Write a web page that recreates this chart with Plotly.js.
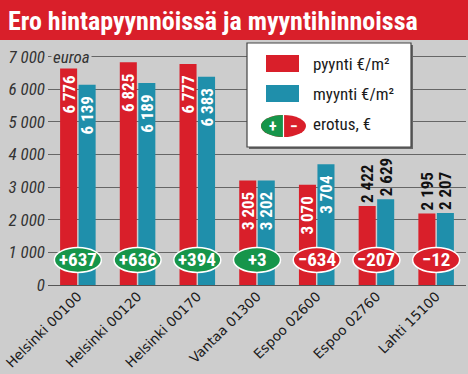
<!DOCTYPE html>
<html>
<head>
<meta charset="utf-8">
<script src="https://cdn.plot.ly/plotly-3.0.1.min.js"></script>
<style>html,body{margin:0;padding:0;background:#cdcdcd;}#chart{width:468px;height:374px;}</style>
</head>
<body>
<div id="chart"></div>
<script>
const categories = ['Helsinki 00100','Helsinki 00120','Helsinki 00170','Vantaa 01300','Espoo 02600','Espoo 02760','Lahti 15100'];
const pyynti = [6776, 6825, 6777, 3205, 3070, 2422, 2195];
const myynti = [6139, 6189, 6383, 3202, 3704, 2629, 2207];
const erotus = [637, 636, 394, 3, -634, -207, -12];
const seriesNames = ['pyynti €/m²', 'myynti €/m²', 'erotus, €'];
const yTickVals = [0,1000,2000,3000,4000,5000,6000,7000];
const yTickText = ['0','1 000','2 000','3 000','4 000','5 000','6 000','7 000'];
const yUnit = 'euroa';
const titleText = 'Ero hintapyynnöissä ja myyntihinnoissa';

const RED = '#d91f2a', BLUE = '#1f8fab', GREEN = '#16954a', BG = '#cdcdcd';
const W = 468, H = 374, L = 48, R = 466, T = 55, B = 285;
const px = x => (x - L) / (R - L);
const py = y => (B - y) / (B - T);
const COND = '"Roboto Condensed", "Open Sans Condensed", "DejaVu Sans Condensed", sans-serif';

function pos(v){ return v < 3000 ? 'outside' : 'inside'; }
function barTrace(vals, name, color){
  const tp = vals.map(pos);
  return {
    type: 'bar', x: categories, y: vals, name: name,
    marker: {color: color},
    texttemplate: tp.map(p => p === 'inside' ? '%{y:,}\u2007' : '%{y:,}'), textangle: -90,
    textposition: tp, insidetextanchor: 'end',
    textfont: {size: 17, weight: 'bold', family: COND},
    insidetextfont: {color: '#ffffff', size: 17, weight: 'bold', family: COND},
    outsidetextfont: {color: '#111111', size: 17, weight: 'bold', family: COND},
    cliponaxis: false, hoverinfo: 'skip', showlegend: false
  };
}

const shapes = [];
const annotations = [];
// title band
shapes.push({type:'rect', xref:'paper', yref:'paper', x0: px(0), x1: px(W), y0: py(40), y1: py(0), fillcolor: RED, line:{width:0}, layer:'below'});

// difference badges
const BADGE_Y = 768;
erotus.forEach((d, i) => {
  shapes.push({type:'circle', xref:'x', yref:'y', xsizemode:'pixel', ysizemode:'pixel',
    xanchor: i, yanchor: BADGE_Y, x0: -23.5, x1: 23.5, y0: -12.5, y1: 12.5,
    fillcolor: d >= 0 ? GREEN : RED, line:{color:'#ffffff', width:1.5}});
  annotations.push({x: i, y: BADGE_Y, xref:'x', yref:'y', showarrow:false, yanchor:'middle',
    text: (d >= 0 ? '+' : '−') + Math.abs(d),
    font:{color:'#ffffff', size:19, weight:'bold', family: COND}});
});

// legend box
shapes.push({type:'rect', xref:'paper', yref:'paper', x0: px(249), x1: px(413), y0: py(149), y1: py(45), fillcolor:'#666666', line:{width:0}});
shapes.push({type:'rect', xref:'paper', yref:'paper', x0: px(247), x1: px(411), y0: py(147), y1: py(43), fillcolor:'#ffffff', line:{color:'#444444', width:1.2}});
shapes.push({type:'rect', xref:'paper', yref:'paper', x0: px(266), x1: px(299), y0: py(72), y1: py(55), fillcolor: RED, line:{width:0}});
shapes.push({type:'rect', xref:'paper', yref:'paper', x0: px(266), x1: px(299), y0: py(102), y1: py(85), fillcolor: BLUE, line:{width:0}});
// legend badge (half green / half red)
shapes.push({type:'circle', xref:'paper', yref:'paper', x0: px(261), x1: px(306), y0: py(137), y1: py(115), fillcolor: RED, line:{width:0}});
const k = 0.5523, cx = px(283.5), cy = py(126), rxp = px(283.5) - px(261), ryp = py(115) - py(126);
shapes.push({type:'path', xref:'paper', yref:'paper',
  path: `M${cx},${cy+ryp} C${cx-k*rxp},${cy+ryp} ${cx-rxp},${cy+k*ryp} ${cx-rxp},${cy} C${cx-rxp},${cy-k*ryp} ${cx-k*rxp},${cy-ryp} ${cx},${cy-ryp} Z`,
  fillcolor: GREEN, line:{width:0}});
shapes.push({type:'line', xref:'paper', yref:'paper', x0: cx, x1: cx, y0: py(137), y1: py(115), line:{color:'#ffffff', width:1.2}});
annotations.push({xref:'paper', yref:'paper', x: px(273), y: py(126), yanchor:'middle', text:'+', showarrow:false, font:{color:'#ffffff', size:16, weight:'bold', family: COND}});
annotations.push({xref:'paper', yref:'paper', x: px(294), y: py(126), yanchor:'middle', text:'−', showarrow:false, font:{color:'#ffffff', size:16, weight:'bold', family: COND}});
[[seriesNames[0], 63.5], [seriesNames[1], 93.5], [seriesNames[2], 124]].forEach(([t, y]) => {
  annotations.push({xref:'paper', yref:'paper', x: px(311), y: py(y), xanchor:'left', yanchor:'middle', text: t, showarrow:false,
    font:{color:'#1a1a1a', size:17, family: COND}});
});
// unit label
annotations.push({xref:'paper', yref:'y', x: px(51), y: 7000, xanchor:'left', yanchor:'middle', text: yUnit, showarrow:false,
  bgcolor: BG, borderpad: 1, font:{color:'#333333', size:17, style:'italic', family: COND}});

const layout = {
  width: W, height: H,
  margin: {l: L, r: W - R, t: T, b: H - B},
  paper_bgcolor: BG, plot_bgcolor: BG,
  separators: ', ',
  uniformtext: {mode: 'show', minsize: 17},
  barmode: 'group', bargap: 0.38, bargroupgap: 0.08,
  title: {text: titleText, xref:'container', yref:'container', x: 8/W, xanchor:'left', y: 1 - 21/H, yanchor:'middle',
    font: {color:'#ffffff', size: 26, weight:'bold', family: COND}},
  xaxis: {type:'category', tickangle: -45, showgrid:false, showline:false, ticks:'', ticklen:0,
    tickfont:{color:'#1a1a1a', size:13.5, family:'"DejaVu Sans", sans-serif'}},
  yaxis: {range:[0, 7050], tickvals: yTickVals, ticktext: yTickText, showgrid:true, gridcolor:'#666666', gridwidth:1,
    zeroline:true, zerolinecolor:'#555555', zerolinewidth:1, showline:false, ticks:'', ticklabelstandoff: 2,
    tickfont:{color:'#333333', size:17, style:'italic', family: COND}},
  shapes: shapes, annotations: annotations, showlegend: false
};

Plotly.newPlot('chart', [barTrace(pyynti, seriesNames[0], RED), barTrace(myynti, seriesNames[1], BLUE)], layout, {displayModeBar:false, staticPlot:true});
</script>
</body>
</html>
